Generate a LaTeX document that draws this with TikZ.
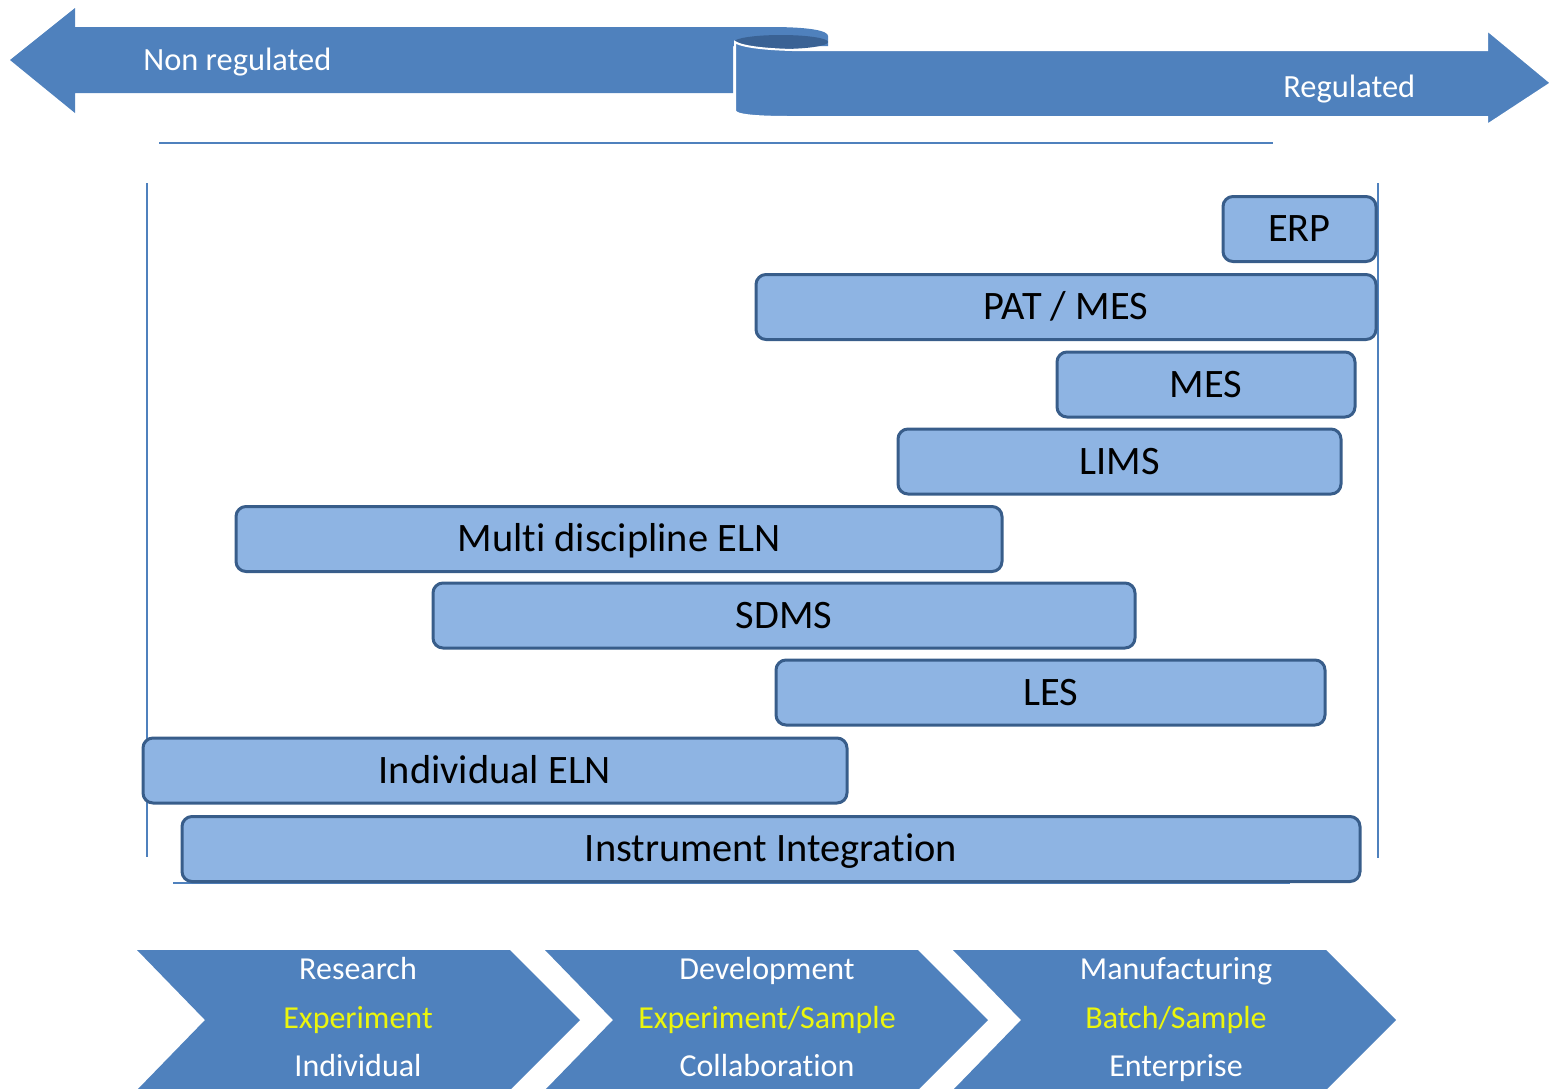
\documentclass[tikz,border=0pt]{standalone}
\usepackage{fontspec}
\setmainfont[Ligatures={NoCommon}]{Carlito}
\usetikzlibrary{positioning}
\definecolor{arrowblue}{RGB}{79,129,189}
\definecolor{curldark}{RGB}{58,98,148}
\definecolor{boxfill}{RGB}{142,180,227}
\definecolor{boxline}{RGB}{56,93,138}
\definecolor{keyyellow}{RGB}{236,246,12}

\begin{document}
\begin{tikzpicture}[x=0.5pt,y=-0.5pt]
\tikzstyle{sys}=[rectangle, rounded corners=5pt, draw=boxline, line width=1.5pt, fill=boxfill, minimum height=32.5pt, inner sep=0pt, text height=12.9pt, text depth=0pt, font=\fontsize{20.2}{22}\selectfont]
\tikzstyle{frame}=[draw=arrowblue, line width=0.7pt]
\tikzstyle{band}=[text=white, font=\fontsize{16.2}{18}\selectfont, anchor=base west, inner sep=0pt]
\tikzstyle{stage}=[text=white, font=\fontsize{16}{18}\selectfont, text height=10.3pt, text depth=0pt, inner sep=0pt, node distance=24.25pt]
\tikzstyle{stagekey}=[stage, text=keyyellow]

\useasboundingbox (0,0) rectangle (1552,1088);

  % regulation ribbon
  \fill[arrowblue] (10,60) -- (75,8) -- (75,27) -- (770,27) .. controls (812,27) and (828,31) .. (828,36) -- (828,46) -- (733,46) -- (733,93) -- (75,93) -- (75,113) -- cycle;
  \fill[curldark] (781,42) ellipse [x radius=47, y radius=7];
  \filldraw[fill=arrowblue, draw=white, line width=1pt] (735,42) .. controls (745,49) and (790,51) .. (830,50) -- (1487,50) -- (1487,30) -- (1551,83) -- (1487,125) -- (1487,117) -- (790,117) .. controls (755,117) and (736,115) .. (735,111) -- cycle;

  \node[band] (nonreg) at (143,70) {Non regulated};
  \node[band] (reg)    at (1283,97) {Regulated};

  \draw[frame] (159,143) -- (1273,143);
  \draw[frame] (147,183) -- (147,857);
  \draw[frame] (1378,183) -- (1378,858);
  \draw[frame] (173,883) -- (1290,883);

  % systems
  \node[sys, minimum width=76.5pt] (erp)      at (1299.5,229)  {ERP};
  \node[sys, minimum width=310pt]  (patmes)   at (1066,307)    {PAT / MES};
  \node[sys, minimum width=149pt]  (mes)      at (1206,384.5)  {MES};
  \node[sys, minimum width=221.5pt](lims)     at (1119.5,461.5){LIMS};
  \node[sys, minimum width=383pt]  (multieln) at (619,539)     {Multi discipline ELN};
  \node[sys, minimum width=351pt]  (sdms)     at (784,615.5)   {SDMS};
  \node[sys, minimum width=274.5pt](les)      at (1050.5,692.5){LES};
  \node[sys, minimum width=352pt]  (indeln)   at (495,770.5)   {Individual ELN};
  \node[sys, minimum width=589pt]  (instint)  at (771,849)     {Instrument Integration};

  % stages
  \foreach \s in {0,1,2}
    \fill[arrowblue, shift={(408*\s,0)}] (137,950) -- (510,950) -- (580,1020) -- (510,1090) -- (137,1090) -- (205,1020) -- cycle;

  \node[stage]    (research)     at (358,969.5)          {Research};
  \node[stagekey] (researchkey)  [below of =research]    {Experiment};
  \node[stage]    (researchwho)  [below of =researchkey] {Individual};

  \node[stage]    (devel)        at (767,969.5)          {Development};
  \node[stagekey] (develkey)     [below of =devel]       {Experiment/Sample};
  \node[stage]    (develwho)     [below of =develkey]    {Collaboration};

  \node[stage]    (manuf)        at (1176,969.5)         {Manufacturing};
  \node[stagekey] (manufkey)     [below of =manuf]       {Batch/Sample};
  \node[stage]    (manufwho)     [below of =manufkey]    {Enterprise};

\end{tikzpicture}
\end{document}
